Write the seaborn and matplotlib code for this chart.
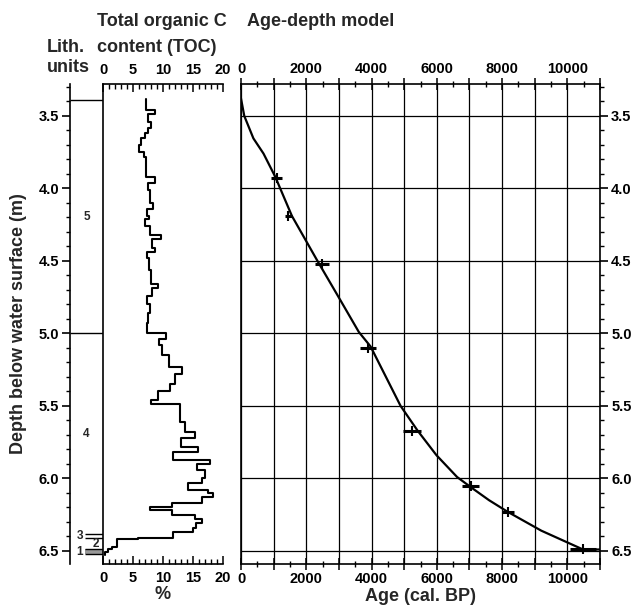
import numpy as np
import pandas as pd
import matplotlib
matplotlib.use("Agg")
import matplotlib.pyplot as plt
import seaborn as sns
from matplotlib.ticker import MultipleLocator, FuncFormatter

# TOC step curve: depth edges (m) and TOC value (%) inside each interval
toc_edges = [3.38, 3.46, 3.49, 3.54, 3.58, 3.62, 3.65, 3.70, 3.75, 3.78,
             3.92, 3.96, 4.01, 4.10, 4.14, 4.19, 4.21, 4.26, 4.32, 4.35,
             4.41, 4.44, 4.48, 4.56, 4.66, 4.69, 4.74, 4.80, 4.86, 4.93,
             5.00, 5.04, 5.08, 5.15, 5.23, 5.28, 5.35, 5.40, 5.46, 5.49,
             5.61, 5.68, 5.72, 5.78, 5.82, 5.87, 5.90, 5.94, 6.00, 6.03,
             6.08, 6.10, 6.13, 6.17, 6.20, 6.22, 6.25, 6.28, 6.31, 6.34,
             6.37, 6.41, 6.42, 6.47, 6.49, 6.51, 6.53]
toc_values = [7.2, 8.7, 7.5, 8.0, 7.5, 7.0, 6.4, 6.0, 6.8, 7.2,
              8.7, 7.5, 7.8, 8.4, 7.4, 7.6, 7.0, 7.8, 9.7, 8.2,
              8.7, 7.3, 7.7, 8.0, 9.2, 8.2, 7.3, 7.8, 7.5, 7.3,
              10.5, 9.4, 9.9, 11.0, 13.2, 12.0, 11.2, 9.2, 8.0, 12.8,
              13.7, 15.3, 13.0, 15.8, 11.7, 17.8, 15.7, 17.0, 16.5, 14.2,
              17.5, 18.3, 16.5, 11.5, 7.8, 11.5, 15.3, 16.5, 15.5, 15.0,
              11.7, 5.8, 2.3, 1.5, 0.9, 0.3]

# age-depth model curve
model_age = [0, 100, 380, 690, 1050, 1560, 2330, 2940, 3610, 3970, 4890,
             5410, 5990, 6620, 7040, 7600, 8170, 9200, 10480, 11000]
model_depth = [3.38, 3.50, 3.655, 3.76, 3.92, 4.19, 4.495, 4.73, 4.99, 5.09, 5.50,
               5.67, 5.84, 5.99, 6.06, 6.15, 6.23, 6.36, 6.49, 6.49]

# dated samples with age uncertainty
date_age = [1100, 1450, 2490, 3900, 5230, 7040, 8180, 10490]
date_depth = [3.93, 4.19, 4.52, 5.10, 5.67, 6.05, 6.23, 6.49]
date_err = [170, 115, 220, 250, 280, 255, 190, 400]

# lithological units (boundaries, top to bottom)
lith_bounds = [3.39, 5.00, 6.385, 6.41, 6.49, 6.52]
lith_names = ['5', '4', '3', '2', '1']

sns.set_style("ticks")
plt.rcParams['font.family'] = ['Liberation Sans', 'DejaVu Sans']
plt.rcParams['font.weight'] = 'bold'
plt.rcParams['axes.labelweight'] = 'bold'
plt.rcParams['axes.linewidth'] = 1.2
plt.rcParams['axes.edgecolor'] = 'black'
plt.rcParams['xtick.color'] = 'black'
plt.rcParams['ytick.color'] = 'black'

W, H = 631, 607
fig = plt.figure(figsize=(W / 100, H / 100), dpi=100)

def box(x0, x1, ytop=84, ybot=564):
    return [x0 / W, (H - ybot) / H, (x1 - x0) / W, (ybot - ytop) / H]

ylim = (6.59, 3.28)
ax_l = fig.add_axes(box(70, 103))
ax_t = fig.add_axes(box(103, 223))
ax_a = fig.add_axes(box(241, 600))

# ---- lith column
ax_l.set_xlim(0, 1)
ax_l.set_ylim(*ylim)
for s in ['top', 'bottom', 'right']:
    ax_l.spines[s].set_visible(False)
ax_l.set_xticks([])
ax_l.yaxis.set_major_locator(MultipleLocator(0.5))
ax_l.yaxis.set_minor_locator(MultipleLocator(0.1))
ax_l.yaxis.set_major_formatter(FuncFormatter(lambda v, p: f"{v:.1f}"))
ax_l.tick_params(axis='y', which='major', length=6, width=1.2, labelsize=10.5, pad=2)
ax_l.tick_params(axis='y', which='minor', length=3, width=1)
ax_l.set_ylabel("Depth below water surface (m)", fontsize=13, labelpad=8)

for i, d in enumerate(lith_bounds):
    x0 = 0 if i < 2 else 0.45
    ax_l.hlines(d, x0, 1, color='black', lw=1.0)
ax_l.fill_between([0.45, 1], lith_bounds[4], lith_bounds[5], color='#999999', lw=0)
label_x = [0.5, 0.5, 0.3, 0.78, 0.3]
for i, name in enumerate(lith_names):
    mid = (lith_bounds[i] + lith_bounds[i + 1]) / 2
    ax_l.text(label_x[i], mid, name, ha='center', va='center', fontsize=8.5)

# ---- TOC
rows = []
for v, top, bot in zip(toc_values, toc_edges[:-1], toc_edges[1:]):
    rows.append((v, top))
    rows.append((v, bot))
toc_df = pd.DataFrame(rows, columns=['toc', 'depth'])
sns.lineplot(data=toc_df, x='toc', y='depth', sort=False, estimator=None,
             orient='y', color='black', lw=1.5, ax=ax_t)
ax_t.set_xlim(0, 20)
ax_t.set_ylim(*ylim)
ax_t.spines['right'].set_visible(False)
ax_t.set_yticks([])
ax_t.set_ylabel('')
ax_t.xaxis.set_major_locator(MultipleLocator(5))
ax_t.xaxis.set_minor_locator(MultipleLocator(1))
ax_t.tick_params(axis='x', which='both', top=True, bottom=True,
                 labeltop=True, labelbottom=True, direction='in')
ax_t.tick_params(axis='x', which='major', length=6, width=1.1, labelsize=10.5, pad=5)
ax_t.tick_params(axis='x', which='minor', length=3.5, width=1)
ax_t.set_xlabel('%', fontsize=13, labelpad=1)

# ---- age-depth model
model_df = pd.DataFrame({'age': model_age, 'depth': model_depth})
sns.lineplot(data=model_df, x='age', y='depth', sort=False, estimator=None,
             orient='y', color='black', lw=1.6, ax=ax_a)
ax_a.errorbar(date_age, date_depth, xerr=date_err, fmt='none',
              ecolor='black', elinewidth=2.2, capsize=0)
sns.scatterplot(x=date_age, y=date_depth, marker='|', s=60, color='black',
                linewidth=1.5, ax=ax_a, zorder=5)
ax_a.set_xlim(0, 11000)
ax_a.set_ylim(*ylim)
ax_a.xaxis.set_major_locator(MultipleLocator(1000))
ax_a.xaxis.set_minor_locator(MultipleLocator(500))
ax_a.xaxis.set_major_formatter(FuncFormatter(
    lambda v, p: f"{int(v)}" if int(v) % 2000 == 0 else ""))
ax_a.yaxis.set_major_locator(MultipleLocator(0.5))
ax_a.yaxis.set_minor_locator(MultipleLocator(0.1))
ax_a.yaxis.set_major_formatter(FuncFormatter(lambda v, p: f"{v:.1f}"))
ax_a.grid(True, which='major', color='black', lw=0.9)
ax_a.tick_params(axis='x', which='both', top=True, bottom=True,
                 labeltop=True, labelbottom=True, direction='inout')
ax_a.tick_params(axis='x', which='major', length=8, width=1.1, labelsize=10.5, pad=2)
ax_a.tick_params(axis='x', which='minor', length=4, width=1)
ax_a.tick_params(axis='y', which='both', left=False, right=True,
                 labelleft=False, labelright=True, direction='out')
ax_a.tick_params(axis='y', which='major', length=6, width=1.2, labelsize=10.5, pad=2)
ax_a.tick_params(axis='y', which='minor', length=3, width=1)
ax_a.set_xlabel('Age (cal. BP)', fontsize=13, labelpad=1)
ax_a.set_ylabel('')

# ---- column headings
fig.text(47 / W, 1 - 48 / H, "Lith.", fontsize=13, va='center', ha='left')
fig.text(47 / W, 1 - 68 / H, "units", fontsize=13, va='center', ha='left')
fig.text(97 / W, 1 - 22 / H, "Total organic C", fontsize=13, va='center', ha='left')
fig.text(97 / W, 1 - 47 / H, "content (TOC)", fontsize=13, va='center', ha='left')
fig.text(247 / W, 1 - 22 / H, "Age-depth model", fontsize=13, va='center', ha='left')

fig.savefig("out.png", dpi=100)
